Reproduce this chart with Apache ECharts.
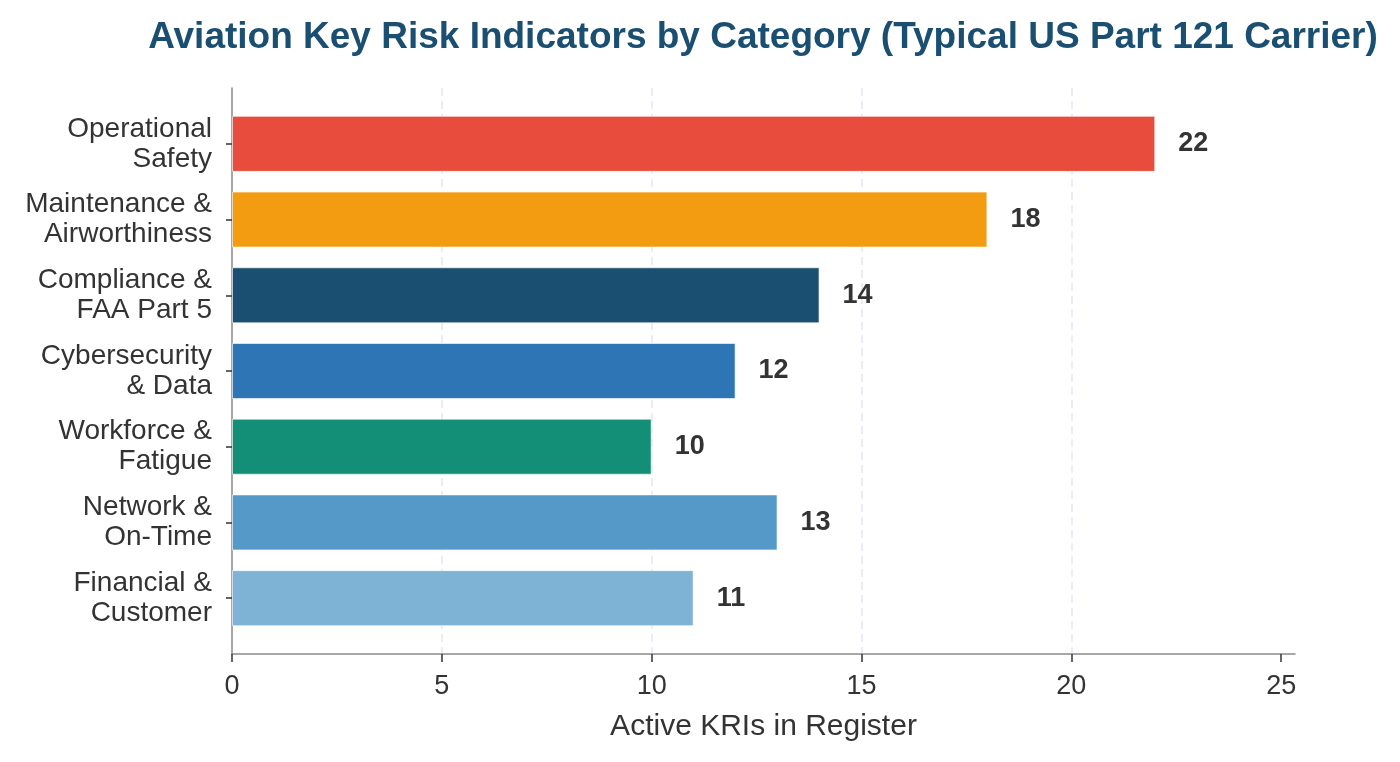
<!DOCTYPE html>
<html>
<head>
<meta charset="utf-8">
<script src="https://cdn.jsdelivr.net/npm/echarts@6/dist/echarts.min.js"></script>
<style>
  html, body { margin: 0; padding: 0; background: #fff; }
  #container1 { width: 1400px; height: 762px; }
</style>
</head>
<body>
<div id="container1"></div>
<script>
// data, top to bottom
var categories = ['Operational\nSafety', 'Maintenance &\nAirworthiness', 'Compliance &\nFAA Part 5',
                  'Cybersecurity\n& Data', 'Workforce &\nFatigue', 'Network &\nOn-Time', 'Financial &\nCustomer'];
var kriCounts = [22, 18, 14, 12, 10, 13, 11];
var barColors = ['#E74C3C', '#F39C12', '#1B4F72', '#2E75B6', '#148F77', '#5499C7', '#7FB3D5'];
var xTicks = [0, 5, 10, 15, 20, 25];

var dom = document.getElementById("container1");
var myChart = echarts.init(dom);
var font = "'Liberation Sans', Arial, sans-serif";

var option = {
    backgroundColor: '#ffffff',
    animation: false,
    title: {
        text: 'Aviation Key Risk Indicators by Category (Typical US Part 121 Carrier)',
        left: 758,
        textAlign: 'center',
        top: 14,
        textStyle: { color: '#1B4F72', fontSize: 37, fontWeight: 'bold', fontFamily: font }
    },
    grid: [
        // frame: axis lines + grid lines
        { left: 232, right: 105, top: 88, bottom: 108 },
        // bars: category bands
        { left: 232, right: 105, top: 106, bottom: 126 }
    ],
    xAxis: [
        {
            gridIndex: 0,
            type: 'value',
            min: 0,
            max: 25.33,
            name: 'Active KRIs in Register',
            nameLocation: 'middle',
            nameGap: 58,
            nameTextStyle: { color: '#333', fontSize: 30, fontFamily: font },
            axisLine: { show: true, lineStyle: { color: '#8a8a8a', width: 1.5 } },
            axisTick: { show: true, customValues: xTicks, length: 8, lineStyle: { color: '#333', width: 1.5 } },
            axisLabel: { customValues: xTicks, color: '#333', fontSize: 27, fontFamily: font, margin: 19 },
            splitLine: { show: true, showMinLine: false, showMaxLine: false,
                         lineStyle: { color: '#e3e6f3', type: [8, 5], width: 1.5 } }
        },
        {
            gridIndex: 1,
            type: 'value',
            min: 0,
            max: 25.33,
            show: false
        }
    ],
    yAxis: [
        {
            gridIndex: 0,
            type: 'value',
            min: 0,
            max: 1,
            axisLine: { show: true, lineStyle: { color: '#8a8a8a', width: 1.5 } },
            axisTick: { show: false },
            axisLabel: { show: false },
            splitLine: { show: false }
        },
        {
            gridIndex: 1,
            type: 'category',
            inverse: true,
            data: categories,
            axisLine: { show: false },
            axisTick: { show: true, alignWithLabel: true, length: 6, lineStyle: { color: '#333', width: 1.5 } },
            axisLabel: { color: '#333', fontSize: 28, fontFamily: font, lineHeight: 30, align: 'right',
                         margin: 20, padding: [14, 0, 0, 0] }
        }
    ],
    series: [
        {
            name: 'Active KRIs',
            type: 'bar',
            xAxisIndex: 1,
            yAxisIndex: 1,
            barWidth: 56,
            data: kriCounts.map(function (v, i) {
                return { value: v, itemStyle: { color: barColors[i] } };
            }),
            itemStyle: { borderColor: 'rgba(255,255,255,0.6)', borderWidth: 1 },
            label: {
                show: true,
                position: 'right',
                distance: 23,
                color: '#333',
                fontSize: 27,
                fontWeight: 'bold',
                fontFamily: font
            }
        }
    ]
};

if (option && typeof option === "object") {
    myChart.setOption(option, true);
}
</script>
</body>
</html>
